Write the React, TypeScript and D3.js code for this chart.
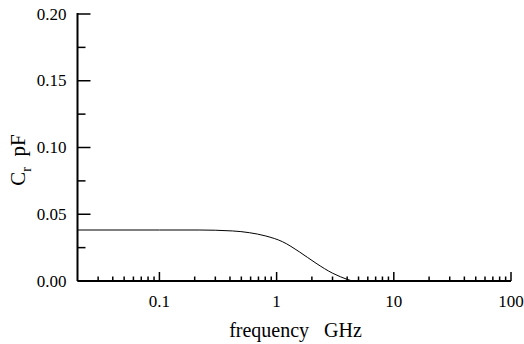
import React from "react";
import * as d3 from "d3";

// capacitance vs frequency
const freqGHz = [0.02, 0.1, 0.218, 0.42, 0.585, 0.81, 1.125, 1.56, 2.17, 3.01, 3.5, 3.92, 4.43];
const capPF = [0.0382, 0.0382, 0.0382, 0.0375, 0.0362, 0.0337, 0.0294, 0.0219, 0.0133, 0.0058, 0.0032, 0.0015, 0.0];

const xMajor = [0.1, 1, 10, 100];
const yMajor = [0.0, 0.05, 0.1, 0.15, 0.2];
const yMinor = [0.025, 0.075, 0.125, 0.175];

const W = 524;
const H = 344;
const margin = { left: 77.5, right: 13, top: 14, bottom: 63 };
const font = "Liberation Serif, Times New Roman, DejaVu Serif, serif";

export default function App() {
  const x = d3.scaleLog().domain([0.02, 100]).range([margin.left, W - margin.right]);
  const y = d3.scaleLinear().domain([0, 0.2]).range([H - margin.bottom, margin.top]);

  const xMinor: number[] = [];
  [0.01, 0.1, 1, 10].forEach((dec) => {
    for (let k = 2; k <= 9; k++) {
      const v = dec * k;
      if (v > 0.02 && v < 100) xMinor.push(v);
    }
  });

  const line = d3
    .line<number>()
    .x((d, i) => x(freqGHz[i]))
    .y((d) => y(d))
    .curve(d3.curveMonotoneX);

  const x0 = x.range()[0];
  const x1 = x.range()[1];
  const yb = y(0);

  return (
    <svg width={W} height={H} style={{ position: "absolute", left: 0, top: 0, fontFamily: font }}>
      <rect width={W} height={H} fill="white" />
      <path d={line(capPF) || ""} fill="none" stroke="black" strokeWidth={1} />

      {/* axes lines */}
      <line x1={x0} x2={x1} y1={yb} y2={yb} stroke="black" strokeWidth={2} />
      <line x1={x0} x2={x0} y1={y(0.2) - 1} y2={yb} stroke="black" strokeWidth={2} />

      {xMajor.map((v) => (
        <g key={"xm" + v}>
          <line x1={x(v)} x2={x(v)} y1={yb} y2={yb - 9} stroke="black" strokeWidth={1.5} />
          <text x={x(v)} y={yb + 25.5} textAnchor="middle" style={{ fontFamily: font, fontSize: 17 }}>
            {d3.format("~g")(v)}
          </text>
        </g>
      ))}
      {xMinor.map((v) => (
        <line key={"xn" + v} x1={x(v)} x2={x(v)} y1={yb} y2={yb - 4.5} stroke="black" strokeWidth={1.5} />
      ))}

      {yMajor.map((v) => (
        <g key={"ym" + v}>
          <line x1={x0} x2={x0 + 13} y1={y(v)} y2={y(v)} stroke="black" strokeWidth={1.5} />
          <text x={x0 - 11} y={y(v) + 5.5} textAnchor="end" style={{ fontFamily: font, fontSize: 17 }}>
            {d3.format(".2f")(v)}
          </text>
        </g>
      ))}
      {yMinor.map((v) => (
        <line key={"yn" + v} x1={x0} x2={x0 + 8} y1={y(v)} y2={y(v)} stroke="black" strokeWidth={1.5} />
      ))}

      <text
        x={295.5}
        y={336.5}
        textAnchor="middle"
        style={{ fontFamily: font, fontSize: 20, whiteSpace: "pre" }}
      >
        {"frequency   GHz"}
      </text>

      <text
        transform={`translate(25, 160) rotate(-90)`}
        textAnchor="middle"
        style={{ fontFamily: font, fontSize: 21, whiteSpace: "pre" }}
      >
        C
        <tspan style={{ fontSize: 14 }} dy={6}>r</tspan>
        <tspan dy={-6}>{"  pF"}</tspan>
      </text>
    </svg>
  );
}
